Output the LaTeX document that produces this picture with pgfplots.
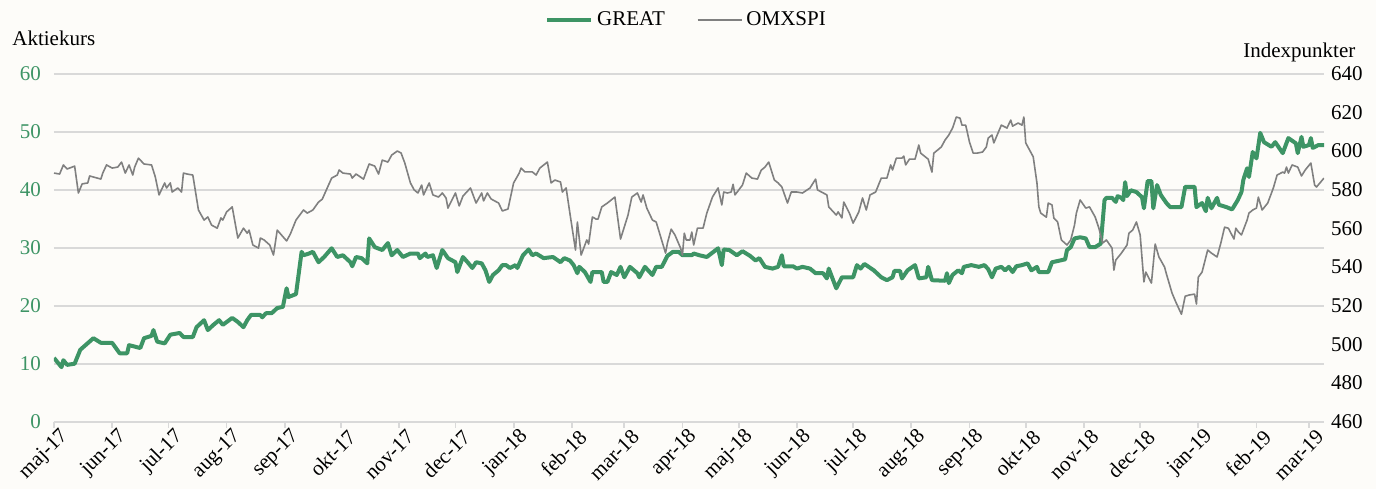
\documentclass[border=0pt]{standalone}
\usepackage{pgfplots}
\pgfplotsset{compat=1.18}
\usepackage{pgfplotstable}
\usepackage{fontspec}
\setmainfont{Liberation Serif}
\definecolor{greatc}{RGB}{61,148,101}
\definecolor{omxc}{RGB}{128,128,128}
\definecolor{gridc}{RGB}{217,217,217}
\definecolor{bgc}{RGB}{253,252,249}

\pgfplotstableread{
d v
0 11.0
4 9.4
5 10.6
7 9.8
11 10.0
14 12.4
21 14.4
25 13.6
31 13.6
35 11.8
39 11.8
40 13.2
46 12.7
48 14.4
52 14.8
53 15.8
55 13.8
59 13.5
62 15.0
67 15.3
69 14.6
74 14.6
76 16.3
80 17.5
82 15.8
85 16.7
88 17.5
90 16.7
95 17.9
98 17.2
101 16.3
103 17.5
105 18.4
110 18.4
111 18.0
113 18.7
116 18.7
119 19.6
122 19.8
124 23.0
125 21.5
129 22.0
132 29.3
133 28.7
136 29.0
138 29.3
141 27.5
144 28.4
148 29.9
151 28.4
154 28.7
158 27.5
159 26.8
161 28.4
164 28.2
167 27.3
168 31.6
171 30.1
175 29.6
178 30.8
180 28.7
183 29.6
186 28.4
190 29.0
194 29.0
195 28.2
198 29.0
199 28.4
202 28.7
204 26.5
207 29.6
210 28.2
214 27.5
215 25.8
218 28.4
221 27.3
223 26.5
225 27.5
228 27.3
230 26.1
232 24.1
234 25.3
237 26.1
239 27.0
241 27.0
243 26.5
246 27.0
247 26.5
250 28.7
253 29.7
255 28.7
257 29.0
261 28.2
266 28.4
270 27.5
272 28.2
275 27.8
277 27.0
279 25.6
280 26.7
283 25.8
286 24.1
287 25.8
292 25.8
293 24.1
295 24.1
297 25.8
300 25.3
302 26.7
304 24.9
307 26.7
311 25.6
312 24.9
315 26.7
319 25.3
321 26.7
324 26.7
327 28.6
330 29.3
333 29.3
335 28.7
340 28.7
341 29.0
344 28.7
348 28.4
354 29.9
356 27.0
357 29.7
360 29.6
364 28.7
367 29.4
371 28.6
374 27.8
376 28.2
379 26.7
383 26.4
386 26.7
388 28.7
389 26.8
394 26.8
396 26.4
399 26.7
403 26.4
406 25.6
410 25.6
412 24.7
413 26.4
417 23.0
420 24.9
426 24.9
428 27.0
430 26.4
432 27.2
437 26.1
441 24.9
444 24.4
447 24.9
448 26.0
451 26.0
452 24.7
455 26.1
459 27.0
461 24.7
465 24.9
466 26.7
468 24.4
475 24.3
476 25.6
477 23.9
479 25.3
482 26.1
484 25.6
485 26.7
489 27.0
493 26.7
496 27.0
498 26.3
500 24.9
502 26.4
505 26.7
507 26.1
509 26.7
511 25.8
513 26.8
516 27.0
519 27.3
521 26.1
524 26.7
525 25.8
530 25.8
532 27.5
535 27.7
539 28.0
540 29.6
542 30.1
544 31.6
547 31.8
550 31.6
552 30.1
555 30.1
558 30.7
560 38.2
561 38.6
564 38.6
566 37.9
567 38.9
569 38.6
570 38.2
571 41.3
572 38.9
574 39.9
577 39.6
580 38.7
581 36.8
583 41.5
585 41.5
586 36.8
588 40.8
590 39.1
593 37.7
595 37.0
601 37.0
603 40.5
608 40.5
609 37.0
612 37.7
614 36.3
615 38.6
617 36.8
620 38.6
621 37.4
625 37.0
628 36.6
631 38.2
633 39.6
634 41.7
636 43.7
637 42.2
639 46.5
641 45.4
643 49.8
645 48.2
649 47.4
651 48.2
655 46.3
658 48.9
662 48.0
663 46.3
665 49.1
666 47.4
669 47.7
670 48.9
671 47.2
674 47.7
677 47.7
}\greatdata

\pgfplotstableread{
d v
0 588.6
3 588.1
5 592.8
7 590.7
11 592.2
13 578.3
15 583.0
18 583.5
19 587.1
25 585.5
26 588.6
28 592.8
31 591.2
34 591.7
36 594.3
38 588.6
40 592.8
42 587.6
43 591.7
45 596.3
48 593.3
52 592.8
54 586.6
56 577.3
59 583.5
60 580.9
62 583.5
63 578.8
66 580.9
68 578.8
69 588.6
71 588.1
74 587.6
77 569.5
80 564.3
82 565.9
84 561.7
87 560.1
89 565.4
90 564.3
92 568.5
95 571.1
98 555.0
101 560.1
103 557.5
104 559.1
106 551.4
109 549.8
110 555.0
112 554.0
115 551.4
117 546.2
119 559.1
124 553.5
126 557.1
129 564.3
131 566.9
133 569.5
135 567.9
138 569.5
141 573.6
143 575.1
148 586.0
151 587.6
152 590.2
154 588.6
158 588.1
159 586.0
161 588.1
165 585.5
168 593.3
171 592.2
173 588.1
175 595.3
178 594.3
180 597.9
183 600.0
185 599.0
187 593.8
190 583.5
192 579.9
194 578.3
196 582.4
197 577.3
200 583.5
202 577.3
205 576.2
207 578.3
209 575.7
210 570.5
214 578.3
216 571.6
218 576.7
222 580.9
225 573.1
228 578.3
229 574.2
231 578.3
233 575.2
237 573.1
239 569.0
242 570.0
245 583.5
248 588.6
249 591.2
251 589.2
255 589.2
257 587.6
259 591.2
263 594.3
265 583.5
267 585.0
270 584.0
271 578.8
273 580.9
275 567.9
278 548.8
279 563.3
281 546.2
284 554.0
285 551.9
287 565.9
289 564.8
290 564.8
292 571.1
295 573.1
299 576.2
302 554.5
306 566.9
308 576.2
311 578.3
313 573.6
314 577.3
316 570.5
319 564.3
321 563.3
326 547.2
327 552.4
329 559.6
331 556.6
334 549.8
335 546.2
336 557.5
337 554.0
339 554.0
340 558.1
341 551.4
343 560.1
346 560.1
348 567.9
351 576.2
354 580.9
356 572.1
357 578.8
359 578.3
361 578.8
362 582.8
363 577.3
367 582.4
369 588.6
372 586.0
375 585.5
377 590.1
379 591.7
381 594.3
384 585.0
386 583.5
388 581.4
391 573.1
393 578.8
396 578.8
399 578.3
403 580.9
406 585.5
407 579.9
412 577.3
413 571.1
417 566.9
418 568.5
420 565.4
421 573.6
424 567.9
426 562.7
429 568.5
431 575.7
433 569.5
435 577.3
438 578.8
441 586.0
444 586.0
446 592.8
447 590.2
449 596.3
452 596.3
453 597.4
454 592.8
456 595.8
459 595.8
461 603.1
462 598.9
466 595.8
468 589.1
469 598.9
473 602.1
475 605.7
477 608.3
479 611.9
481 617.6
483 617.0
484 613.4
486 613.4
488 604.7
490 598.9
492 598.9
495 599.5
497 602.1
498 606.7
500 608.3
501 604.2
505 613.4
508 611.9
510 616.0
511 612.9
514 614.5
516 613.4
517 617.6
518 604.2
522 597.0
524 583.3
525 571.1
526 567.9
529 565.8
530 573.1
532 572.1
533 565.3
535 563.3
537 554.0
540 551.4
542 554.0
544 561.7
545 567.9
547 574.7
550 570.5
552 571.1
555 565.9
557 560.1
559 552.4
561 554.0
564 549.8
565 538.4
566 543.6
569 547.2
572 551.4
573 557.5
575 559.1
577 563.3
579 556.6
581 532.3
582 537.4
585 531.7
587 551.9
589 545.2
592 540.0
593 536.4
596 526.5
598 521.9
601 515.6
603 524.9
605 525.5
608 526.0
609 520.9
610 534.8
612 537.4
615 548.8
617 547.2
620 545.2
622 552.4
624 560.6
626 560.1
629 554.5
630 560.1
631 558.6
633 556.6
636 564.3
637 567.9
639 569.5
641 570.5
642 576.2
644 569.5
647 573.1
650 580.9
652 587.6
655 589.1
656 588.6
657 591.7
658 588.6
660 592.8
663 591.7
665 587.1
667 590.2
670 593.8
672 582.4
673 581.4
677 586.0
}\omxdata

\begin{document}
\begin{tikzpicture}[font=\fontsize{10.5}{12}\selectfont]
\path[use as bounding box, fill=bgc] (-27pt,-33.65pt) rectangle (661pt,210.85pt);
\begin{axis}[
  at={(0,0)}, anchor=south west,
  scale only axis, width=635pt, height=174pt,
  xmin=0, xmax=677, ymin=0, ymax=60,
  axis x line*=bottom, axis y line*=left,
  x axis line style={draw=gridc, line width=0.9pt, -},
  y axis line style={draw=none},
  xtick={0,31,61,92,123,153,184,214,245,276,304,335,365,396,426,457,488,518,549,579,610,641,669},
  xticklabels={maj-17,jun-17,jul-17,aug-17,sep-17,okt-17,nov-17,dec-17,jan-18,feb-18,mar-18,apr-18,maj-18,jun-18,jul-18,aug-18,sep-18,okt-18,nov-18,dec-18,jan-19,feb-19,mar-19},
  xticklabel style={rotate=45, anchor=east, font=\fontsize{10.5}{12}\selectfont, inner sep=1pt, xshift=3pt, yshift=-6pt},
  x tick style={draw=gridc, line width=0.9pt},
  tick align=outside, major tick length=3pt,
  ytick={0,10,20,30,40,50,60},
  y tick style={draw=none},
  yticklabel style={text=greatc, font=\fontsize{10.5}{12}\selectfont},
  ymajorgrids, grid style={draw=gridc, line width=0.9pt},
  /pgf/number format/assume math mode=true,
]
\addplot[greatc, line width=2pt, line join=round] table[x=d,y=v] {\greatdata};
\end{axis}
\begin{axis}[
  at={(0,0)}, anchor=south west,
  scale only axis, width=635pt, height=174pt,
  xmin=0, xmax=677, ymin=460, ymax=640,
  axis x line=none, axis y line*=right,
  y axis line style={draw=none},
  ytick={460,480,500,520,540,560,580,600,620,640},
  y tick style={draw=none},
  yticklabel style={text=black, font=\fontsize{10.5}{12}\selectfont},
  /pgf/number format/assume math mode=true,
  legend columns=2,
  legend style={at={(rel axis cs:0.4988,1.154)}, anchor=center, draw=none, fill=none,
    font=\fontsize{10.5}{12}\selectfont,
    /tikz/every even column/.append style={column sep=14pt}},
  legend image code/.code={\draw[#1] (0pt,0pt) -- (22pt,0pt);},
]
\addlegendimage{greatc, line width=2pt}
\addlegendentry{GREAT}
\addplot[omxc, line width=0.8pt, line join=round] table[x=d,y=v] {\omxdata};
\addlegendentry{OMXSPI}
\end{axis}
\node[anchor=base west, inner sep=0pt] at (-21pt,187.85pt) {Aktiekurs};
\node[anchor=base west, inner sep=0pt] at (594.5pt,182.35pt) {Indexpunkter};
\end{tikzpicture}
\end{document}
